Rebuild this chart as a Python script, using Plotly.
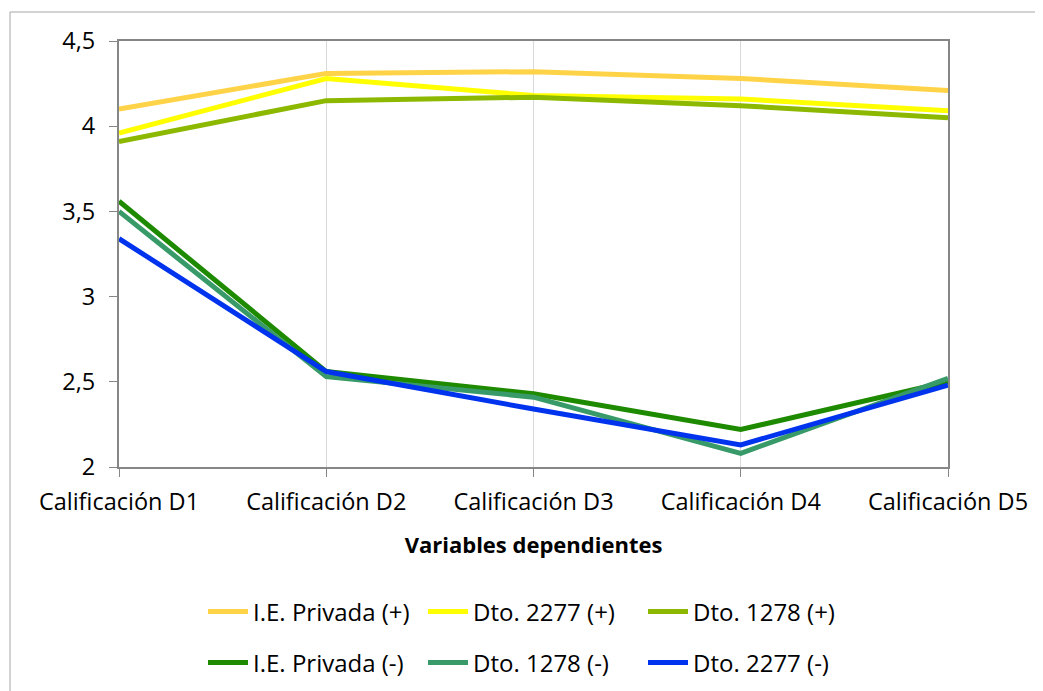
import plotly.graph_objects as go

categories = ['Calificación D1', 'Calificación D2', 'Calificación D3', 'Calificación D4', 'Calificación D5']

ie_privada_pos = [4.10, 4.31, 4.32, 4.28, 4.21]
dto_2277_pos = [3.96, 4.28, 4.18, 4.16, 4.09]
dto_1278_pos = [3.91, 4.15, 4.17, 4.12, 4.05]
ie_privada_neg = [3.56, 2.56, 2.43, 2.22, 2.50]
dto_1278_neg = [3.50, 2.53, 2.41, 2.08, 2.52]
dto_2277_neg = [3.34, 2.56, 2.34, 2.13, 2.48]

# (name, values, colour, legend row)
series = [
	('I.E. Privada (+)', ie_privada_pos, '#FFD347', 'legend'),
	('Dto. 2277 (+)', dto_2277_pos, '#FFFF00', 'legend'),
	('Dto. 1278 (+)', dto_1278_pos, '#8CB800', 'legend'),
	('I.E. Privada (-)', ie_privada_neg, '#1E8A00', 'legend2'),
	('Dto. 1278 (-)', dto_1278_neg, '#379A68', 'legend2'),
	('Dto. 2277 (-)', dto_2277_neg, '#0033EE', 'legend2'),
]

# page body has an 8px margin, so the figure is drawn offset by 8px
OFF = 8
W, H = 1043, 691
L, R, T, B = 119 - OFF, 95 + OFF, 41 - OFF, 224 + OFF
pw, ph = W - L - R, H - T - B

FONT = 'Open Sans, Lato, sans-serif'
axis_font = dict(family=FONT, size=23.5, color='#000000')

fig = go.Figure()
for name, vals, color, leg in series:
	fig.add_trace(go.Scatter(x=categories, y=vals, mode='lines', name=name, legend=leg, line=dict(color=color, width=5)))

legend_common = dict(
	orientation='h', xanchor='left', x=(203 - OFF - L) / pw, yanchor='middle',
	font=dict(family=FONT, size=24, color='#000000'),
	entrywidth=165, entrywidthmode='pixels', itemwidth=40, bgcolor='rgba(0,0,0,0)',
)

fig.update_layout(
	width=W, height=H,
	margin=dict(l=L, r=R, t=T, b=B),
	paper_bgcolor='white', plot_bgcolor='white',
	separators=',.',
	showlegend=True,
	legend=dict(legend_common, y=-(612 - 467) / ph),
	legend2=dict(legend_common, y=-(663 - 467) / ph),
	xaxis=dict(
		type='category', range=[0, 4], tickfont=axis_font,
		showgrid=True, gridcolor='#D9D9D9', gridwidth=1,
		showline=True, linecolor='#868686', linewidth=2, mirror=True,
		ticks='outside', ticklen=8, tickcolor='#868686', ticklabelstandoff=5,
		title=dict(text='<b>Variables dependientes</b>', font=dict(family=FONT, size=22, color='#000000'), standoff=21),
	),
	yaxis=dict(
		range=[2, 4.5], dtick=0.5, tickfont=axis_font,
		showgrid=False, zeroline=False,
		showline=True, linecolor='#868686', linewidth=2, mirror=True,
		ticks='outside', ticklen=8, tickcolor='#868686', ticklabelstandoff=9,
	),
	shapes=[dict(
		type='rect', xref='paper', yref='paper',
		x0=(10 - OFF - L) / pw, x1=(W + 20 - L) / pw,
		y0=-(H + 20 - T - ph) / ph, y1=1 + (T - 12 + OFF) / ph,
		line=dict(color='#A6A6A6', width=1), layer='below',
	)],
)

fig.write_html('out.html')
